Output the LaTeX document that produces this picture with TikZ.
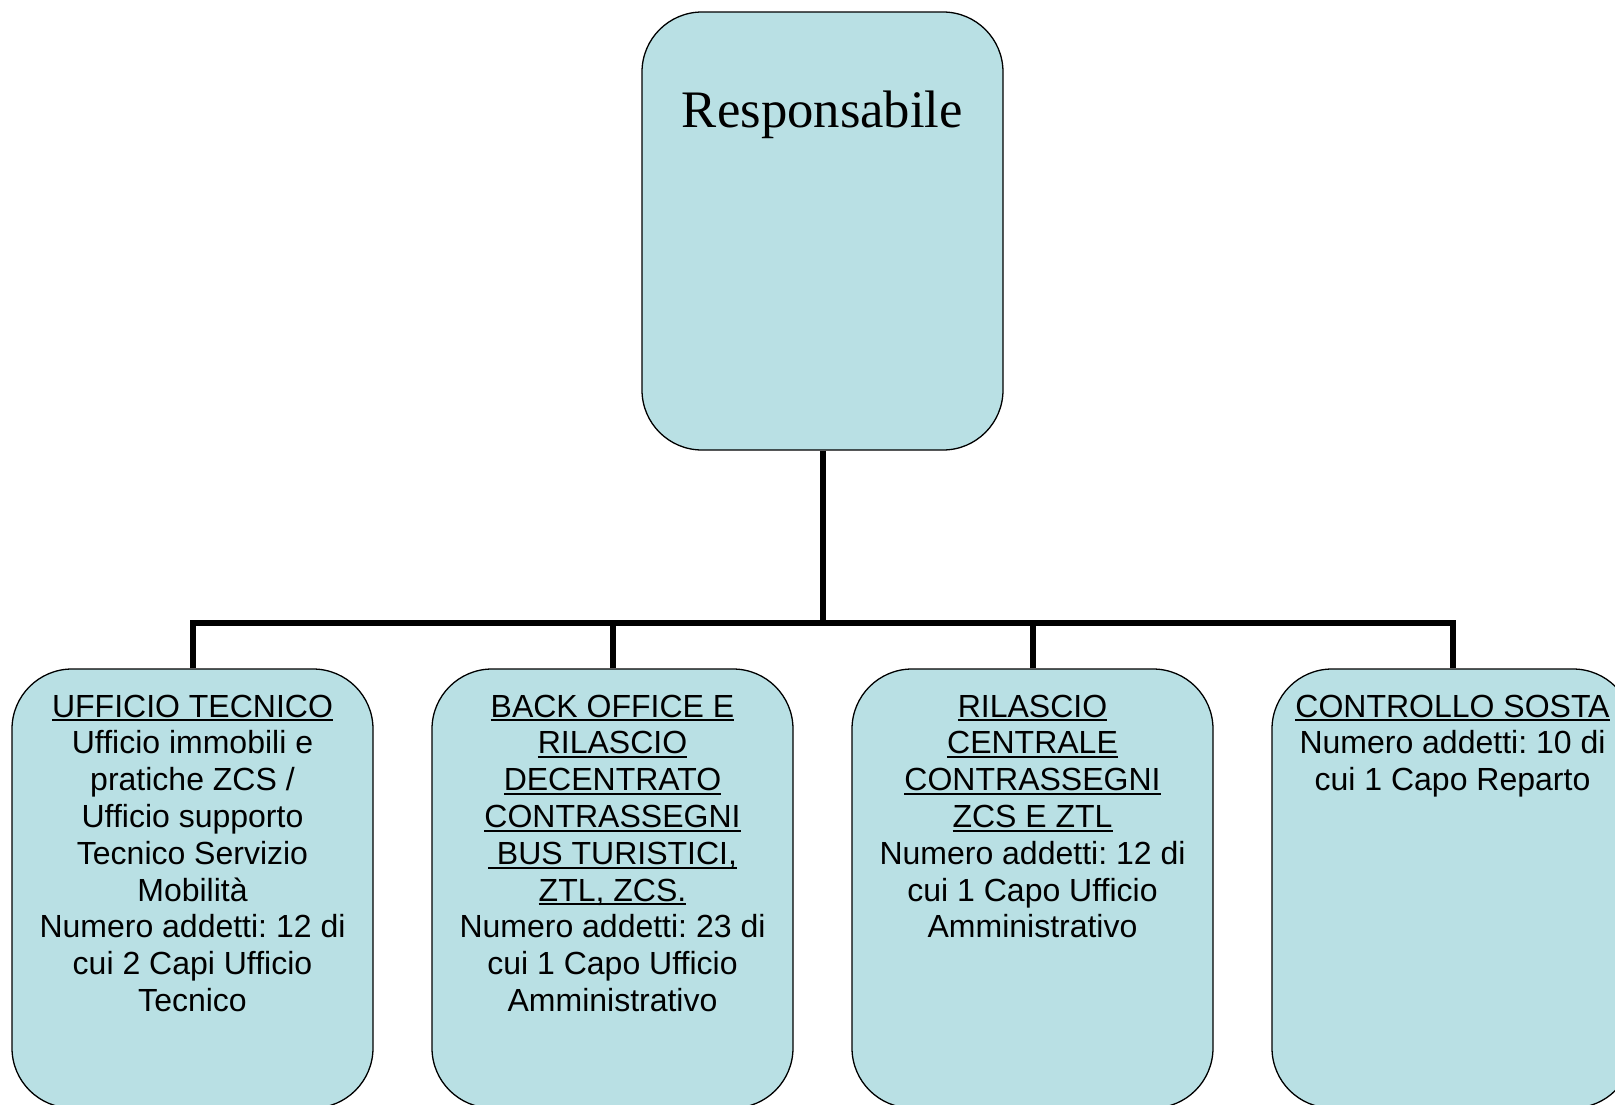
\documentclass[tikz,border=0pt]{standalone}
\usepackage{fontspec}
\setmainfont{Liberation Sans}
\newfontfamily\serifface{Liberation Serif}
\frenchspacing
\definecolor{boxfill}{RGB}{185,224,228}
\newcommand\uln[1]{\setbox0\hbox{#1}\leavevmode\rlap{\rule[-4.4pt]{\wd0}{2pt}}\box0}
\newcommand\boxtext[1]{\begin{minipage}[t]{361pt}\fontsize{32pt}{36.8pt}\selectfont\centering #1\end{minipage}}
\tikzset{
  orgbox/.style={draw=black, line width=1.3pt, fill=boxfill, rounded corners=60pt,
    minimum width=361pt, inner sep=0pt},
  unitbox/.style={orgbox, minimum height=439pt},
  headbox/.style={orgbox, minimum height=438pt},
  boxlabel/.style={anchor=base, inner sep=0pt},
  bus/.style={line width=6pt, black}
}
\begin{document}
\begin{tikzpicture}[x=1pt,y=-1pt]
\useasboundingbox (0,0) rectangle (1615,1104);
\coordinate (busline) at (0,623);
% boxes
\node[headbox] (head) at (822.5,231) {};
\node[unitbox] (b1) at (192.5,888.5) {};
\node[unitbox] (b2) at (612.5,888.5) {};
\node[unitbox] (b3) at (1032.5,888.5) {};
\node[unitbox] (b4) at (1452.5,888.5) {};
% connectors
\draw[bus] (head.south) -- (head.south |- busline);
\draw[bus] (b1.north) -- (b1.north |- busline) -- (b4.north |- busline) -- (b4.north);
\draw[bus] (b2.north) -- (b2.north |- busline);
\draw[bus] (b3.north) -- (b3.north |- busline);
% texts
\node[boxlabel, font=\serifface\fontsize{52.7pt}{60pt}\selectfont] (headtext) at (822.5,127) {Responsabile};
\node[boxlabel] (t1) at (192.5,717) {\boxtext{\uln{UFFICIO TECNICO}\\
Ufficio immobili e\\ pratiche ZCS /\\ Ufficio supporto\\ Tecnico Servizio\\ Mobilità\\
Numero addetti: 12 di\\ cui 2 Capi Ufficio\\ Tecnico}};
\node[boxlabel] (t2) at (612.5,717) {\boxtext{\uln{BACK OFFICE E}\\ \uln{RILASCIO}\\ \uln{DECENTRATO}\\
\uln{CONTRASSEGNI}\\ \uln{\ BUS TURISTICI,}\\ \uln{ZTL, ZCS.}\\
Numero addetti: 23 di\\ cui 1 Capo Ufficio\\ Amministrativo}};
\node[boxlabel] (t3) at (1032.5,717) {\boxtext{\uln{RILASCIO}\\ \uln{CENTRALE}\\ \uln{CONTRASSEGNI}\\
\uln{ZCS E ZTL}\\ Numero addetti: 12 di\\ cui 1 Capo Ufficio\\ Amministrativo}};
\node[boxlabel] (t4) at (1452.5,717) {\boxtext{\uln{CONTROLLO SOSTA}\\
Numero addetti: 10 di\\ cui 1 Capo Reparto}};
\end{tikzpicture}
\end{document}
